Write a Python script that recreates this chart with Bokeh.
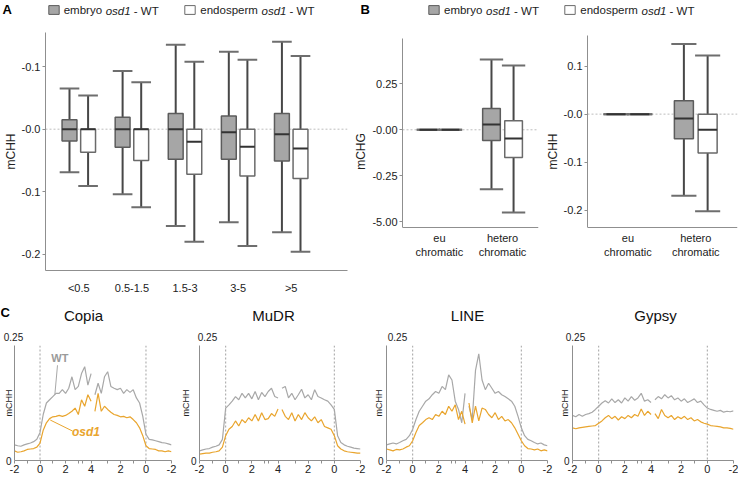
import math
from bokeh.plotting import figure
from bokeh.layouts import column, row
from bokeh.models import (ColumnDataSource, FixedTicker, Span, Label, Legend,
                          LegendItem, Arrow, Range1d)
from bokeh.embed import file_html
from bokeh.resources import INLINE

FONT = "Liberation Sans"
TXT = "#222222"
AXC = "#8f8f8f"

# ---------------- Panel A data: [lower whisker, Q1, median, Q3, upper whisker]
size_classes = ["<0.5", "0.5-1.5", "1.5-3", "3-5", ">5"]
embryo_A = [[-0.069, -0.019, 0.000, 0.015, 0.065],
            [-0.104, -0.029, 0.000, 0.019, 0.093],
            [-0.155, -0.048, 0.000, 0.025, 0.135],
            [-0.149, -0.048, -0.005, 0.021, 0.124],
            [-0.165, -0.051, -0.008, 0.025, 0.140]]
endosperm_A = [[-0.091, -0.037, 0.000, 0.000, 0.054],
               [-0.125, -0.050, 0.000, 0.000, 0.075],
               [-0.180, -0.072, -0.020, 0.000, 0.108],
               [-0.187, -0.075, -0.028, 0.000, 0.111],
               [-0.196, -0.079, -0.031, 0.000, 0.117]]
A_ticks = [-0.2, -0.1, 0.0, 0.1]
A_tick_labels = ["-0.2", "-0.1", "-0.0", "-0.1"]

# ---------------- Panel B data
chrom_classes = ["eu\nchromatic", "hetero\nchromatic"]
embryo_CHG = [[0.0, 0.0, 0.0, 0.0, 0.0], [-0.323, -0.058, 0.029, 0.116, 0.382]]
endosperm_CHG = [[0.0, 0.0, 0.0, 0.0, 0.0], [-0.449, -0.151, -0.047, 0.049, 0.349]]
embryo_CHH = [[0.0, 0.0, 0.0, 0.0, 0.0], [-0.170, -0.051, -0.009, 0.028, 0.146]]
endosperm_CHH = [[0.0, 0.0, 0.0, 0.0, 0.0], [-0.202, -0.081, -0.0325, 0.000, 0.122]]
CHG_ticks = [-0.5, -0.25, 0.0, 0.25]
CHG_tick_labels = ["-5.00", "-0.25", "-0.00", "0.25"]
CHH_ticks = [-0.2, -0.1, 0.0, 0.1]
CHH_tick_labels = ["-0.2", "-0.1", "-0.0", "0.1"]

# ---------------- Panel C data (kb positions, 5' block then 3' block)
te_families = ["Copia", "MuDR", "LINE", "Gypsy"]
pos_5prime = [-2.0, -1.75, -1.5, -1.25, -1.0, -0.75, -0.5, -0.25, 0.0, 0.25, 0.5, 0.75,
              1.0, 1.25, 1.5, 1.75, 2.0, 2.25, 2.5, 2.75, 3.0, 3.25, 3.5, 3.75, 4.0]
pos_3prime = [4.0, 3.75, 3.5, 3.25, 3.0, 2.75, 2.5, 2.25, 2.0, 1.75, 1.5, 1.25,
              1.0, 0.75, 0.5, 0.25, 0.0, -0.25, -0.5, -0.75, -1.0, -1.25, -1.5, -1.75, -2.0]
C_tick_5 = [-2, 0, 2, 4]
C_tick_3 = [2, 0, -2]

copia_wt_5 = [0.034, 0.032, 0.031, 0.034, 0.036, 0.038, 0.041, 0.046, 0.061, 0.100, 0.125, 0.132,
              0.139, 0.146, 0.146, 0.154, 0.146, 0.157, 0.182, 0.154, 0.161, 0.189, 0.204, 0.164, 0.189]
copia_wt_3 = [0.143, 0.168, 0.146, 0.182, 0.193, 0.161, 0.157, 0.154, 0.157, 0.146, 0.154, 0.148,
              0.154, 0.136, 0.125, 0.096, 0.057, 0.046, 0.045, 0.043, 0.041, 0.039, 0.038, 0.036, 0.034]
copia_osd_5 = [0.021, 0.018, 0.019, 0.021, 0.024, 0.025, 0.026, 0.029, 0.038, 0.066, 0.082, 0.091,
               0.095, 0.096, 0.098, 0.096, 0.098, 0.102, 0.107, 0.114, 0.100, 0.132, 0.118, 0.143, 0.129]
copia_osd_3 = [0.107, 0.146, 0.107, 0.118, 0.111, 0.105, 0.100, 0.098, 0.095, 0.096, 0.093, 0.095,
               0.089, 0.082, 0.071, 0.054, 0.032, 0.026, 0.025, 0.024, 0.021, 0.021, 0.019, 0.021, 0.019]

mudr_wt_5 = [0.021, 0.023, 0.025, 0.026, 0.029, 0.031, 0.034, 0.046, 0.114, 0.121, 0.129, 0.139,
             0.132, 0.146, 0.136, 0.146, 0.134, 0.150, 0.132, 0.148, 0.139, 0.150, 0.157, 0.139, 0.136]
mudr_wt_3 = [0.157, 0.161, 0.136, 0.146, 0.132, 0.143, 0.155, 0.136, 0.143, 0.132, 0.154, 0.139,
             0.136, 0.132, 0.129, 0.121, 0.111, 0.054, 0.039, 0.034, 0.031, 0.029, 0.027, 0.026, 0.025]
mudr_osd_5 = [0.014, 0.015, 0.016, 0.016, 0.018, 0.019, 0.021, 0.029, 0.054, 0.068, 0.074, 0.086,
              0.075, 0.089, 0.082, 0.093, 0.086, 0.100, 0.086, 0.104, 0.089, 0.091, 0.102, 0.096, 0.112]
mudr_osd_3 = [0.111, 0.096, 0.089, 0.104, 0.086, 0.100, 0.089, 0.104, 0.093, 0.086, 0.095, 0.082,
              0.089, 0.074, 0.071, 0.068, 0.054, 0.032, 0.025, 0.021, 0.019, 0.018, 0.017, 0.016, 0.016]

line_wt_5 = [0.034, 0.036, 0.038, 0.036, 0.039, 0.043, 0.046, 0.054, 0.068, 0.089, 0.107, 0.118,
             0.129, 0.134, 0.143, 0.150, 0.146, 0.161, 0.154, 0.186, 0.175, 0.129, 0.111, 0.082, 0.146]
line_wt_3 = [0.118, 0.089, 0.196, 0.232, 0.175, 0.154, 0.168, 0.157, 0.146, 0.150, 0.143, 0.139,
             0.134, 0.129, 0.118, 0.096, 0.071, 0.054, 0.046, 0.043, 0.039, 0.036, 0.038, 0.034, 0.032]
line_osd_5 = [0.025, 0.023, 0.021, 0.024, 0.023, 0.025, 0.029, 0.032, 0.043, 0.061, 0.076, 0.082,
              0.089, 0.093, 0.089, 0.100, 0.096, 0.107, 0.100, 0.118, 0.107, 0.121, 0.089, 0.107, 0.079]
line_osd_3 = [0.125, 0.082, 0.118, 0.086, 0.114, 0.111, 0.100, 0.093, 0.104, 0.089, 0.096, 0.086,
              0.089, 0.082, 0.071, 0.057, 0.043, 0.032, 0.026, 0.025, 0.023, 0.025, 0.021, 0.023, 0.021]

gypsy_wt_5 = [0.098, 0.095, 0.100, 0.096, 0.100, 0.102, 0.105, 0.111, 0.118, 0.125, 0.130, 0.125,
              0.134, 0.126, 0.132, 0.125, 0.136, 0.129, 0.139, 0.131, 0.136, 0.146, 0.129, 0.132, 0.126]
gypsy_wt_3 = [0.132, 0.139, 0.134, 0.143, 0.136, 0.141, 0.132, 0.136, 0.129, 0.134, 0.126, 0.130,
              0.134, 0.126, 0.129, 0.121, 0.114, 0.111, 0.109, 0.107, 0.109, 0.105, 0.107, 0.106, 0.108]
gypsy_osd_5 = [0.071, 0.069, 0.071, 0.072, 0.073, 0.074, 0.075, 0.076, 0.081, 0.086, 0.093, 0.098,
               0.091, 0.096, 0.088, 0.095, 0.091, 0.098, 0.093, 0.100, 0.096, 0.112, 0.098, 0.107, 0.100]
gypsy_osd_3 = [0.102, 0.091, 0.111, 0.098, 0.093, 0.098, 0.089, 0.095, 0.091, 0.096, 0.089, 0.093,
               0.086, 0.089, 0.084, 0.081, 0.079, 0.076, 0.075, 0.074, 0.073, 0.071, 0.071, 0.070, 0.068]

# ---------------- styling constants
BOX_W = 0.28
CAP_W = 0.37
OFF = 0.175
EMB_FILL = "#a6a6a6"
EMB_EDGE = "#5c5c5c"
END_FILL = "#ffffff"
END_EDGE = "#6a6a6a"
WHISK = "#474747"
CAPC = "#6e6e6e"
MED = "#333333"
WT_COL = "#a8a8a8"
OSD_COL = "#e9a52e"
W = 738
STRIP1_H = 18
TOP_H = 283
TOP_B = 14
BOT_B = 31
STRIP2_H = 44
C_H = 132
C_BOT = 17
A_W = 351
B1_W = 191


def add_boxes(p, stats, offset, fill, edge):
    x = [i + 1 + offset for i in range(len(stats))]
    src = ColumnDataSource(dict(
        x=x,
        lo=[s[0] for s in stats], q1=[s[1] for s in stats], med=[s[2] for s in stats],
        q3=[s[3] for s in stats], hi=[s[4] for s in stats],
        cl=[v - CAP_W / 2 for v in x], cr=[v + CAP_W / 2 for v in x],
        bl=[v - BOX_W / 2 for v in x], br=[v + BOX_W / 2 for v in x]))
    p.segment(x0="x", y0="q3", x1="x", y1="hi", source=src, line_color=WHISK, line_width=2)
    p.segment(x0="x", y0="lo", x1="x", y1="q1", source=src, line_color=WHISK, line_width=2)
    p.segment(x0="cl", y0="hi", x1="cr", y1="hi", source=src, line_color=CAPC, line_width=2)
    p.segment(x0="cl", y0="lo", x1="cr", y1="lo", source=src, line_color=CAPC, line_width=2)
    r = p.vbar(x="x", width=BOX_W, bottom="q1", top="q3", source=src,
               fill_color=fill, line_color=edge, line_width=1.5)
    p.segment(x0="bl", y0="med", x1="br", y1="med", source=src, line_color=MED, line_width=2)
    return r


def box_fig(width, xr, yr, ticks, tick_labels, ylab, cats, lb, rb, xstand, axis_bounds=None):
    p = figure(width=width, height=TOP_H, x_range=xr, y_range=yr, output_backend="svg",
               toolbar_location=None, min_border_left=lb, min_border_right=rb,
               min_border_top=TOP_B, min_border_bottom=BOT_B)
    p.grid.visible = False
    p.outline_line_color = None
    p.yaxis.ticker = FixedTicker(ticks=ticks)
    p.yaxis.major_label_overrides = dict(zip(ticks, tick_labels))
    p.xaxis.ticker = FixedTicker(ticks=list(range(1, len(cats) + 1)))
    p.xaxis.major_label_overrides = {i + 1: c for i, c in enumerate(cats)}
    for ax in (p.xaxis[0], p.yaxis[0]):
        ax.axis_line_color = AXC
        ax.major_tick_line_color = AXC
        ax.minor_tick_line_color = None
        ax.major_tick_in = 0
        ax.major_label_text_font = FONT
        ax.major_label_text_font_size = "11px"
        ax.major_label_text_color = TXT
        ax.axis_label_text_font = FONT
        ax.axis_label_text_font_size = "12px"
        ax.axis_label_text_font_style = "normal"
        ax.axis_label_text_color = TXT
    p.yaxis.major_tick_out = 3
    p.yaxis.major_label_standoff = 2
    p.yaxis.axis_label = ylab
    p.yaxis.axis_label_standoff = 1
    p.xaxis.major_tick_out = 0
    p.xaxis.major_label_standoff = xstand
    p.xaxis.major_label_text_line_height = 1.1
    if axis_bounds is not None:
        p.yaxis.bounds = axis_bounds
        p.xaxis.fixed_location = axis_bounds[0]
    zero = Span(location=0, dimension="width", line_color="#bdbdbd", line_dash="2 2",
                line_width=1, level="underlay")
    p.add_layout(zero)
    return p


def strip_fig(height):
    # blank full-width band (pixel-like coordinates, y measured from the top)
    s = figure(width=W, height=height, x_range=Range1d(0, W), y_range=Range1d(height, 0),
               output_backend="svg", toolbar_location=None, x_axis_location=None,
               y_axis_location=None, min_border=0)
    s.grid.visible = False
    s.outline_line_color = None
    return s


def text(p, x, y, t, size="11.5px", style="normal", color=TXT, align="left"):
    p.add_layout(Label(x=x, y=y, text=t, text_font=FONT, text_font_size=size,
                       text_font_style=style, text_color=color, text_align=align,
                       text_baseline="middle"))


# ---------------- legend / panel-letter band above panels A and B
s1 = strip_fig(STRIP1_H)
GLYPH_W = 13
STANDOFF = 4
W_EMBRYO = 41.5      # width of "embryo " at 11.5px
W_ENDO = 60.7        # width of "endosperm " at 11.5px
W_OSD = 28.1         # width of "osd1 " at 11.5px
NAN = float("nan")


def legend_entry(x, fill, edge, word, word_w):
    # key-only renderer (no visible data) that gives the legend its swatch style
    r = s1.vbar(x=[NAN], top=[NAN], bottom=[NAN], width=1, fill_color=fill,
                line_color=edge, line_width=1)
    leg = Legend(items=[LegendItem(label=word, renderers=[r])], location=(x, 2.5))
    leg.padding = 0
    leg.margin = 0
    leg.glyph_width = GLYPH_W
    leg.glyph_height = 11
    leg.label_height = 11
    leg.label_standoff = STANDOFF
    leg.label_text_font = FONT
    leg.label_text_font_size = "11.5px"
    leg.label_text_color = TXT
    leg.border_line_color = None
    leg.background_fill_alpha = 0
    s1.add_layout(leg)
    tx = x + GLYPH_W + STANDOFF + word_w
    text(s1, tx, 10, "osd1", style="italic")
    text(s1, tx + W_OSD, 10, "- WT")


text(s1, 2, 8.5, "A", size="13px", style="bold", color="#000000")
text(s1, 360, 8.5, "B", size="13px", style="bold", color="#000000")
legend_entry(46.7, EMB_FILL, EMB_EDGE, "embryo", W_EMBRYO)
legend_entry(183.3, END_FILL, END_EDGE, "endosperm", W_ENDO)
legend_entry(427, EMB_FILL, EMB_EDGE, "embryo", W_EMBRYO)
legend_entry(563.3, END_FILL, END_EDGE, "endosperm", W_ENDO)

# ---------------- Panel A
A_xr = Range1d(0.373, 6.06)
A_yr = Range1d(-0.226, 0.1546)
pA = box_fig(A_W, A_xr, A_yr, A_ticks, A_tick_labels, "mCHH", size_classes, 32, 4, 11)
add_boxes(pA, embryo_A, -OFF, EMB_FILL, EMB_EDGE)
add_boxes(pA, endosperm_A, OFF, END_FILL, END_EDGE)

# ---------------- Panel B (mCHG): frame shared with A, axis limited to its own extent
B1_xr = Range1d(0.415, 2.57)
B1_yr = Range1d(-0.765, 0.529)
pB1 = box_fig(B1_W, B1_xr, B1_yr, CHG_ticks, CHG_tick_labels, "mCHG", chrom_classes,
              46, 4, 5, axis_bounds=(-0.531, 0.496))
add_boxes(pB1, embryo_CHG, -OFF, EMB_FILL, EMB_EDGE)
add_boxes(pB1, endosperm_CHG, OFF, END_FILL, END_EDGE)

# ---------------- Panel B (mCHH)
B2_xr = Range1d(0.405, 2.615)
B2_yr = Range1d(-0.3256, 0.170)
pB2 = box_fig(W - A_W - B1_W, B2_xr, B2_yr, CHH_ticks, CHH_tick_labels, "mCHH", chrom_classes,
              43, 1, 5, axis_bounds=(-0.236, 0.164))
add_boxes(pB2, embryo_CHH, -OFF, EMB_FILL, EMB_EDGE)
add_boxes(pB2, endosperm_CHH, OFF, END_FILL, END_EDGE)

# ---------------- Panel C
GAP_START = 6.3
u5 = [q + 2 for q in pos_5prime]
u3 = [GAP_START + (4 - q) for q in pos_3prime]
u_ticks = [q + 2 for q in C_tick_5] + [GAP_START + (4 - q) for q in C_tick_3]
u_labels = [str(q) for q in C_tick_5] + [str(q) for q in C_tick_3]
u_minor = [q + 3 for q in C_tick_5[:-1]] + [GAP_START + (3 - q) for q in [4, 2, 0]]
U_END = GAP_START + 6

C_widths = [177, 193, 186, W - 177 - 193 - 186]
C_left = [11, 17, 15, 12]
C_right = [6, 10, 9, 5]
C_lab_standoff = [-11, -3, -9, -9]
C_title_x = [83, 273, 467, 655]
C_top_label_x = [13, 207, 397, 575]


def profile_fig(wt5, wt3, osd5, osd3, width, lb, rb, lab_standoff):
    p = figure(width=width, height=C_H, x_range=Range1d(0, U_END), y_range=Range1d(0, 0.25),
               output_backend="svg", toolbar_location=None,
               min_border_left=lb, min_border_right=rb, min_border_top=0,
               min_border_bottom=C_BOT)
    p.grid.visible = False
    p.outline_line_color = None
    xa = p.xaxis[0]
    xa.ticker = FixedTicker(ticks=u_ticks, minor_ticks=u_minor)
    xa.major_label_overrides = dict(zip(u_ticks, u_labels))
    xa.axis_line_color = AXC
    xa.major_tick_line_color = AXC
    xa.minor_tick_line_color = AXC
    xa.major_tick_in = 0
    xa.major_tick_out = 3
    xa.minor_tick_in = 0
    xa.minor_tick_out = 3
    xa.major_label_standoff = 1
    xa.major_label_text_font = FONT
    xa.major_label_text_font_size = "11px"
    xa.major_label_text_color = TXT
    ya = p.yaxis[0]
    ya.ticker = FixedTicker(ticks=[0])
    ya.major_label_overrides = {0: "0"}
    ya.axis_line_color = AXC
    ya.major_tick_out = 0
    ya.major_tick_in = 0
    ya.minor_tick_out = 0
    ya.minor_tick_in = 0
    ya.major_label_standoff = 3
    ya.major_label_text_font = FONT
    ya.major_label_text_font_size = "10px"
    ya.major_label_text_color = TXT
    ya.axis_label = "mCHH"
    ya.axis_label_standoff = lab_standoff
    ya.axis_label_text_font = FONT
    ya.axis_label_text_font_size = "9px"
    ya.axis_label_text_font_style = "normal"
    ya.axis_label_text_color = TXT
    for loc in (u5[pos_5prime.index(0.0)], u3[pos_3prime.index(0.0)]):
        p.add_layout(Span(location=loc, dimension="height", line_color="#8a8a8a",
                          line_dash="2 2", line_width=0.8, level="underlay"))
    p.line(u5, wt5, line_color=WT_COL, line_width=1.2)
    p.line(u3, wt3, line_color=WT_COL, line_width=1.2)
    p.line(u5, osd5, line_color=OSD_COL, line_width=1.2)
    p.line(u3, osd3, line_color=OSD_COL, line_width=1.2)
    return p


series = [(copia_wt_5, copia_wt_3, copia_osd_5, copia_osd_3),
          (mudr_wt_5, mudr_wt_3, mudr_osd_5, mudr_osd_3),
          (line_wt_5, line_wt_3, line_osd_5, line_osd_3),
          (gypsy_wt_5, gypsy_wt_3, gypsy_osd_5, gypsy_osd_3)]
c_figs = [profile_fig(*series[i], C_widths[i], C_left[i], C_right[i], C_lab_standoff[i])
          for i in range(4)]
pC1 = c_figs[0]

# series labels with leader lines (Copia)
pC1.add_layout(Arrow(end=None, x_start=3.37, y_start=0.207, x_end=3.16, y_end=0.143,
                     line_color=WT_COL, line_width=1))
pC1.add_layout(Arrow(end=None, x_start=2.8, y_start=0.088, x_end=4.55, y_end=0.064,
                     line_color=OSD_COL, line_width=1))
pC1.add_layout(Label(x=3.55, y=0.223, text="WT", text_font=FONT, text_font_size="11px",
                     text_font_style="bold", text_color="#9a9a9a", text_align="center",
                     text_baseline="middle"))
pC1.add_layout(Label(x=5.6, y=0.0615, text="osd1", text_font=FONT, text_font_size="12px",
                     text_font_style="bold italic", text_color=OSD_COL, text_align="center",
                     text_baseline="middle"))

# ---------------- band with panel letter C, family titles and the 0.25 axis-top labels
s2 = strip_fig(STRIP2_H)
text(s2, 0, 10.5, "C", size="13px", style="bold", color="#000000")
for i, name in enumerate(te_families):
    text(s2, C_title_x[i], 14, name, size="15px", color="#111111", align="center")
    text(s2, C_top_label_x[i], 35, "0.25", size="10px", align="center")

layout = column(s1, row(pA, pB1, pB2), s2, row(*c_figs))
open("out.html", "w").write(file_html(layout, INLINE))
